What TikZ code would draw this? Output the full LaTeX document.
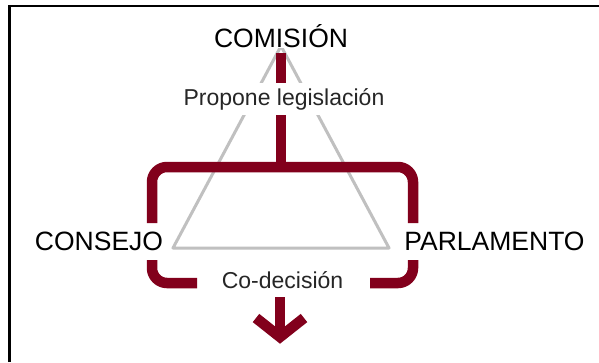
\documentclass[tikz,border=0pt]{standalone}
\usepackage{fontspec}
\setmainfont{Liberation Sans}
\definecolor{maroon}{RGB}{130,0,28}
\definecolor{trigray}{RGB}{192,192,192}
\begin{document}
\begin{tikzpicture}[x=1bp,y=-1bp,
  bigtxt/.style={font=\fontsize{26.5bp}{30bp}\selectfont, text=black, inner sep=0pt, anchor=base},
  smalltxt/.style={font=\fontsize{23bp}{26bp}\selectfont, text=black!85, anchor=base, fill=white, inner xsep=2bp, inner ysep=5bp},
  bar/.style={draw=maroon, line width=10.5bp, line cap=butt},
  tri/.style={draw=trigray, line width=3bp, line join=round}]
\useasboundingbox (0,0) rectangle (599,362);
\fill[white] (0,0) rectangle (599,362);
% frame
\draw[line width=2.5bp, black] (9.5,362) -- (9.5,6) -- (599,6);
% gray triangle
\coordinate (apex) at (281,46);
\coordinate (bl) at (173,248);
\coordinate (br) at (389,248);
\draw[tri] (apex) -- (bl) -- (br) -- cycle;
% maroon structure
\coordinate (top) at (281,53);
\coordinate (join) at (281,167);
\coordinate (ul) at (152,223);
\coordinate (ur) at (413,223);
\draw[bar] (top) -- (join);
\draw[bar, rounded corners=15bp] (ul) |- (join) -| (ur);
\coordinate (ll) at (152,260);
\coordinate (llend) at (197,283);
\coordinate (lr) at (413,260);
\coordinate (lrend) at (370,283);
\draw[bar, rounded corners=15bp] (ll) |- (llend);
\draw[bar, rounded corners=15bp] (lr) |- (lrend);
% arrow
\coordinate (shaft) at (280,297);
\coordinate (tip) at (280,337);
\coordinate (armL) at (256,318);
\coordinate (armR) at (304,318);
\draw[bar] (shaft) -- (tip);
\draw[bar, line join=miter] (armL) -- (tip) -- (armR);
% texts
\node[bigtxt, fill=white, inner ysep=1bp] (com) at (281,47) {COMISIÓN};
\node[smalltxt] (prop) at (284,105) {Propone legislación};
\node[bigtxt] (cons) at (99,250) {CONSEJO};
\node[bigtxt] (parl) at (494.5,250) {PARLAMENTO};
\node[smalltxt, fill=none] (codec) at (282.5,288) {Co-decisión};
\end{tikzpicture}
\end{document}
